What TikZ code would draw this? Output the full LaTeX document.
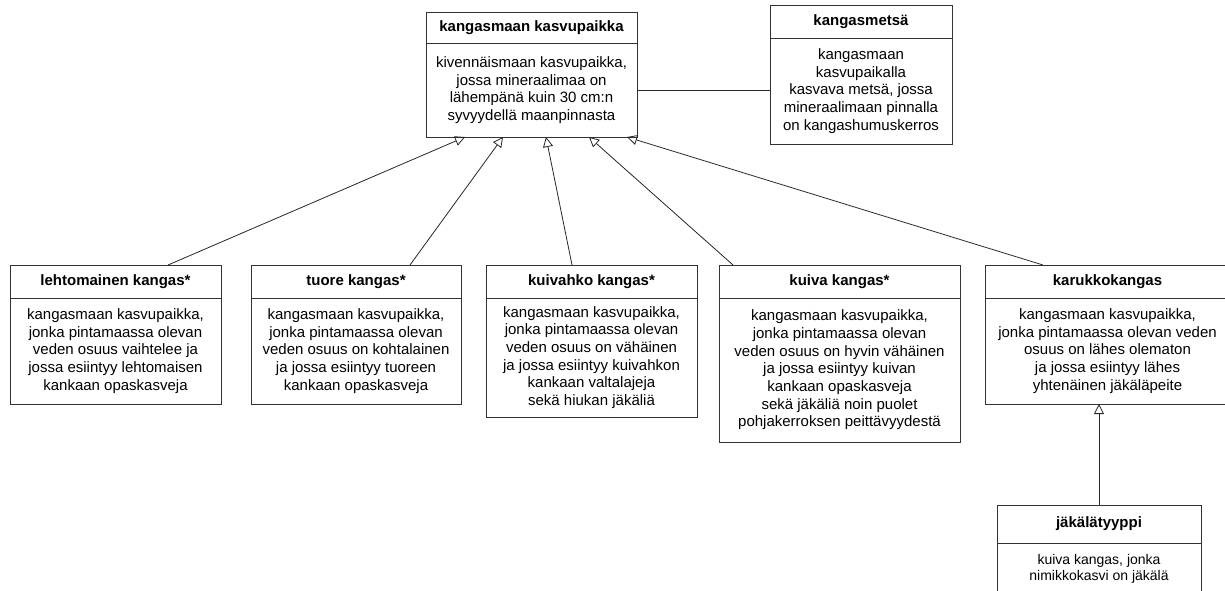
\documentclass[tikz,border=0pt]{standalone}
\usepackage{fontspec}
\setmainfont{Liberation Sans}
\usetikzlibrary{arrows.meta}
\def\umlclass[#1](#2)(#3,#4)(#5:#6:#7)#8#9{%
	\node[head, minimum width=#5, minimum height=#6] (#2) at (#3,#4) {#8};
	\node[body, minimum width=#5, minimum height=#7, #1] (#2b) at (#2.south) {#9};}
\tikzset{
	head/.style={draw=black!80, line width=0.9pt, anchor=north, inner sep=0pt, outer sep=0pt, font=\fontsize{15}{17.7}\selectfont\bfseries},
	body/.style={draw=black!80, line width=0.9pt, anchor=north, inner sep=0pt, outer sep=0pt, align=center, font=\fontsize{15}{17.7}\selectfont},
	inherit/.style={line width=0.8pt, color=black!85, -{Triangle[open, length=10pt, width=10pt]}},
}

\begin{document}
\begin{tikzpicture}[x=1pt, y=-1pt]
		%%%%% START %%%%%
		\useasboundingbox (0,0) rectangle (1225,591);
		
		\umlclass[](kasvu)(531.5,12)(211:31:94){kangasmaan kasvupaikka}{kivennäismaan kasvupaikka,\\jossa mineraalimaa on\\lähempänä kuin 30 cm:n\\syvyydellä maanpinnasta}
		\umlclass[](metsa)(861,5)(182:33:106){kangasmetsä}{kangasmaan\\kasvupaikalla\\kasvava metsä, jossa\\mineraalimaan pinnalla\\on kangashumuskerros}
		
		\umlclass[](lehto)(115.5,265)(211:33:106){lehtomainen kangas*}{kangasmaan kasvupaikka,\\jonka pintamaassa olevan\\veden osuus vaihtelee ja\\jossa esiintyy lehtomaisen\\kankaan opaskasveja}
		\umlclass[](tuore)(356,265)(210:33:106){tuore kangas*}{kangasmaan kasvupaikka,\\jonka pintamaassa olevan\\veden osuus on kohtalainen\\ja jossa esiintyy tuoreen\\kankaan opaskasveja}
		\umlclass[](kuivahko)(591.5,265)(211:33:119){kuivahko kangas*}{kangasmaan kasvupaikka,\\jonka pintamaassa olevan\\veden osuus on vähäinen\\ja jossa esiintyy kuivahkon\\kankaan valtalajeja\\sekä hiukan jäkäliä}
		\umlclass[](kuiva)(839.5,265)(241:33:144){kuiva kangas*}{kangasmaan kasvupaikka,\\jonka pintamaassa olevan\\veden osuus on hyvin vähäinen\\ja jossa esiintyy kuivan\\kankaan opaskasveja\\sekä jäkäliä noin puolet\\pohjakerroksen peittävyydestä}
		% right side runs off the page
		\umlclass[](karukko)(1107.5,265)(245:33:106){karukkokangas}{kangasmaan kasvupaikka,\\jonka pintamaassa olevan veden\\osuus on lähes olematon\\ja jossa esiintyy lähes\\yhtenäinen jäkäläpeite}
		
		\umlclass[font=\fontsize{14}{16.3}\selectfont](jakala)(1099,505)(204:38:52){jäkälätyyppi}{kuiva kangas, jonka\\nimikkokasvi on jäkälä}
		
		\draw[line width=0.8pt, color=black!85] (kasvub.east) -- (kasvub.east -| metsab.west);
		
		\draw[inherit] ([xshift=52.5pt]lehto.north) -- ([xshift=-66.5pt]kasvub.south);
		\draw[inherit] ([xshift=54pt]tuore.north) -- ([xshift=-28.5pt]kasvub.south);
		\draw[inherit] ([xshift=-19.5pt]kuivahko.north) -- ([xshift=14.5pt]kasvub.south);
		\draw[inherit] ([xshift=-106.5pt]kuiva.north) -- ([xshift=57.5pt]kasvub.south);
		\draw[inherit] ([xshift=-64.5pt]karukko.north) -- ([xshift=95.5pt]kasvub.south);
		
		\draw[inherit] (jakala.north) -- (jakala.north |- karukkob.south);
		
		%%%%% END %%%%%
\end{tikzpicture}
\end{document}
